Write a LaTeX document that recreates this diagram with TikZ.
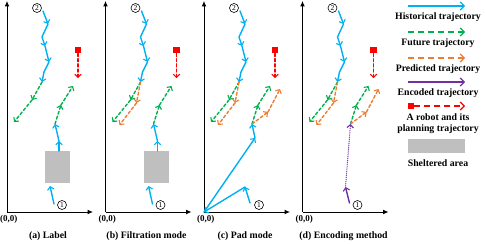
\documentclass[tikz,border=0pt]{standalone}
\usepackage{fontspec}
\setmainfont{Liberation Serif}
\usetikzlibrary{arrows.meta}
\definecolor{hblue}{RGB}{0,176,240}
\definecolor{fgreen}{RGB}{0,176,80}
\definecolor{porange}{RGB}{237,125,49}
\definecolor{epurple}{RGB}{112,48,160}
\definecolor{rred}{RGB}{255,0,0}
\definecolor{sgray}{RGB}{191,191,191}
\newcommand\commonparts[1]{%
  \coordinate (O) at (7,212);
  \coordinate (yt) at (7,1);
  \coordinate (xt) at (93,212);
  \draw[axis] (O) -- (yt);
  \draw[axis] (O) -- (xt);
  \node[font=\bfseries\fontsize{9}{10}\selectfont] (orig) at (8.8,219) {(0,0)};
  \node (cap) at (48,236) {#1};
  \node[num] (n2) at (37,8) {2};
  \node[num] (n1) at (62,205) {1};
  \coordinate (b0) at (43,11);
  \coordinate (b1) at (48,24);
  \coordinate (b2) at (42,37);
  \coordinate (b3) at (45,46);
  \coordinate (b4) at (49,62);
  \coordinate (b5) at (44,72);
  \coordinate (b6) at (42,82);
  \draw[hist] (b0) -- (b1);
  \draw[hist] (b1) -- (b2) -- (b3);
  \draw[hist] (b3) -- (b4);
  \draw[hist] (b4) -- (b5) -- (b6);
  \coordinate (g1) at (32,100);
  \coordinate (g2) at (14,122);
  \draw[fut] (b6) -- (g1);
  \draw[fut] (g1) -- (g2);
  \node[robot] (rb) at (78,50) {};
  \coordinate (rt) at (78,78);
  \draw[plan] (rb.south) -- (rt);
  \coordinate (s) at (55,124);
  \coordinate (f1) at (61,105);
  \coordinate (f2) at (73,86);
  \draw[fut] (s) -- (f1);
  \draw[fut] (f1) -- (f2);
}
\newcommand\predtwo{%
  \coordinate (o1) at (38,103);
  \coordinate (o2) at (21,125);
  \draw[pred] (b6) -- (o1);
  \draw[pred] (o1) -- (o2);
}
\newcommand\predone{%
  \coordinate (p1) at (71,112);
  \coordinate (p2) at (83,89);
  \draw[pred] (s) -- (p1);
  \draw[pred] (p1) -- (p2);
}
\newcommand\sheltered{%
  \node[shelter,minimum width=25pt,minimum height=32pt] (box) at (57.5,167) {};
  \coordinate (u0) at (54,204);
  \coordinate (u1) at (50,186);
  \coordinate (v0) at (59,151);
  \coordinate (v1) at (59,141);
  \draw[hist] (u0) -- (u1);
  \draw[hist] (v0) -- (v1);
  \draw[hist] (v1) -- (s);
}
\begin{document}
\begin{tikzpicture}[x=1pt,y=-1pt,
  every node/.style={font=\bfseries\fontsize{9.8}{11}\selectfont,inner sep=0pt},
  axis/.style={line width=1pt,-{Latex[length=5.5pt,width=5pt]}},
  traj/.style={line width=1.4pt,line cap=round,line join=round,-{Straight Barb[length=3pt,width=6.5pt,line width=1.1pt]}},
  hist/.style={traj,hblue},
  fut/.style={traj,fgreen,dash pattern=on 3pt off 2.2pt},
  pred/.style={traj,porange,dash pattern=on 3pt off 2.2pt},
  enc/.style={traj,epurple},
  encdot/.style={traj,epurple,line width=1.3pt,dash pattern=on 0pt off 1.9pt},
  plan/.style={traj,rred,dash pattern=on 3pt off 2.2pt},
  robot/.style={fill=rred,minimum size=6.5pt,inner sep=0pt},
  shelter/.style={fill=sgray,inner sep=0pt},
  num/.style={circle,draw,line width=0.6pt,minimum size=9pt,inner sep=0pt,font=\fontsize{7.5}{8}\selectfont},
  leg/.style={line width=1.5pt,-{Straight Barb[length=4pt,width=8pt,line width=1.2pt]}},
  legdash/.style={dash pattern=on 6pt off 4pt},
]
\useasboundingbox (0,0) rectangle (485,246);

% (a) Label
\begin{scope}[name prefix=pa-]
  \commonparts{(a) Label}
  \sheltered
\end{scope}

% (b) Filtration mode
\begin{scope}[xshift=98.5pt,name prefix=pb-]
  \commonparts{(b) Filtration mode}
  \predtwo
  \sheltered
\end{scope}

% (c) Pad mode
\begin{scope}[xshift=197pt,name prefix=pc-]
  \commonparts{(c) Pad mode}
  \predtwo
  \predone
  \coordinate (c0) at (53,203);
  \coordinate (c1) at (48,187);
  \coordinate (c2) at (58,138);
  \draw[hist] (c0) -- (c1);
  \draw[hist] (c1) -- (O);
  \draw[hist] (O) -- (c2);
  \draw[hist] (c2) -- (s);
\end{scope}

% (d) Encoding method
\begin{scope}[xshift=295.5pt,name prefix=pd-]
  \commonparts{(d) Encoding method}
  \predtwo
  \predone
  \coordinate (e0) at (54,203);
  \coordinate (e1) at (50,187);
  \draw[enc] (e0) -- (e1);
  \draw[encdot] (e1) -- (s);
\end{scope}

% legend
\coordinate (la1) at (408,6);   \coordinate (lb1) at (465,6);
\coordinate (la2) at (408,32);  \coordinate (lb2) at (465,32);
\coordinate (la3) at (408,58);  \coordinate (lb3) at (465,58);
\coordinate (la4) at (408,82);  \coordinate (lb4) at (465,82);
\coordinate (lb5) at (465,106);
\draw[leg,hblue] (la1) -- (lb1);
\node (t1) at (438,17) {Historical trajectory};
\draw[leg,legdash,fgreen] (la2) -- (lb2);
\node (t2) at (438,43) {Future trajectory};
\draw[leg,legdash,porange] (la3) -- (lb3);
\node (t3) at (438,69) {Predicted trajectory};
\draw[leg,epurple] (la4) -- (lb4);
\node (t4) at (438,93) {Encoded trajectory};
\node[robot] (lr) at (411,106) {};
\draw[leg,legdash,rred] (lr.east) -- (lb5);
\node[align=center] (t5) at (438,123.5) {A robot and its\\planning trajectory};
\node[shelter,minimum width=57pt,minimum height=14pt] (lg) at (436.5,146) {};
\node (t6) at (438,163) {Sheltered area};
\end{tikzpicture}
\end{document}
